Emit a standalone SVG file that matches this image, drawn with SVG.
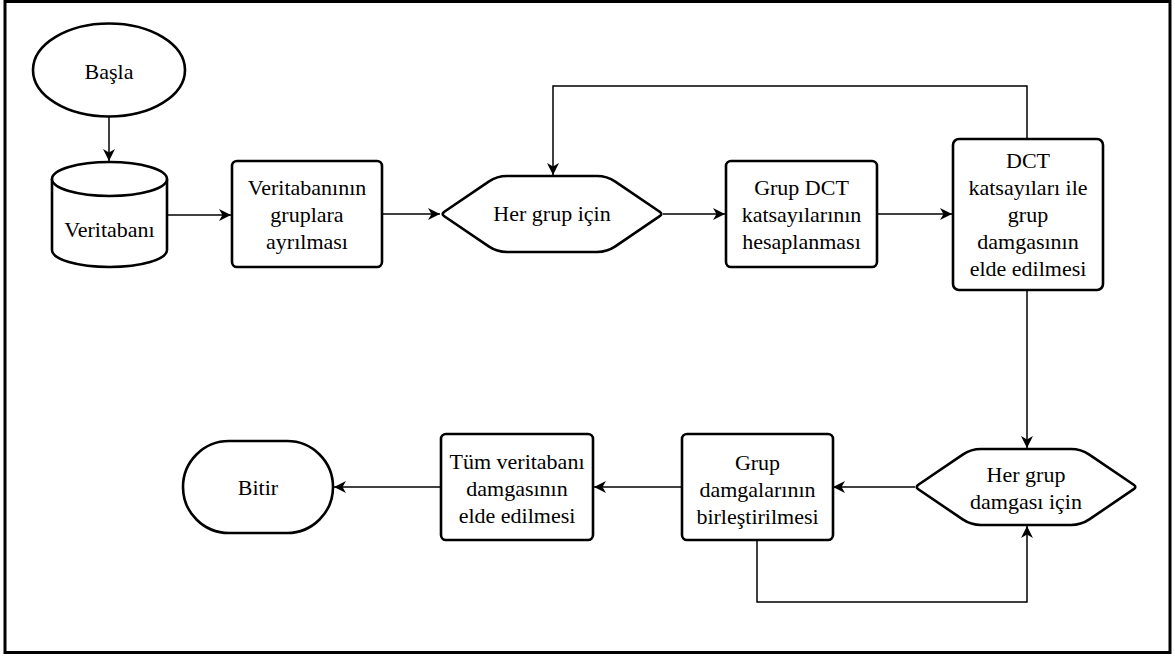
<svg xmlns="http://www.w3.org/2000/svg" width="1175" height="657" viewBox="0 0 1175 657">
  <style>
    .frame { fill: #fff; stroke: #000; stroke-width: 3; }
    .node { fill: #fff; stroke: #000; stroke-width: 2.6; stroke-linejoin: round; }
    .edge { fill: none; stroke: #000; stroke-width: 1.5; }
    .lbl { font-family: 'Liberation Serif', 'Tinos', 'Times New Roman', 'DejaVu Serif', serif; font-size: 22px; fill: #000; text-anchor: middle; }
  </style>
  <defs>
    <marker id="arrow" markerUnits="userSpaceOnUse" markerWidth="13" markerHeight="12" refX="12" refY="6" orient="auto">
      <path d="M0,0 L12,6 L0,12 L3.5,6 Z" fill="#000"/>
    </marker>
  </defs>

  <!-- outer frame -->
  <rect class="frame" x="5" y="1.5" width="1165" height="651"/>

  <!-- connectors -->
  <g id="connectors">
    <path class="edge" d="M109,117 V161" marker-end="url(#arrow)"/>
    <path class="edge" d="M167,215 H231" marker-end="url(#arrow)"/>
    <path class="edge" d="M382,214 H440" marker-end="url(#arrow)"/>
    <path class="edge" d="M663,214 H725" marker-end="url(#arrow)"/>
    <path class="edge" d="M877,214 H952" marker-end="url(#arrow)"/>
    <path class="edge" d="M1027,139 V86 H553 V175" marker-end="url(#arrow)"/>
    <path class="edge" d="M1027,290 V448" marker-end="url(#arrow)"/>
    <path class="edge" d="M915,487 H833" marker-end="url(#arrow)"/>
    <path class="edge" d="M682,487 H594" marker-end="url(#arrow)"/>
    <path class="edge" d="M441,487 H334" marker-end="url(#arrow)"/>
    <path class="edge" d="M757,540 V602 H1027 V526" marker-end="url(#arrow)"/>
  </g>

  <!-- start -->
  <g id="start">
    <ellipse class="node" cx="109" cy="70" rx="76" ry="46.5"/>
    <text class="lbl" x="109" y="79" font-family="Liberation Serif, serif">Başla</text>
  </g>

  <!-- database -->
  <g id="database">
    <path class="node" d="M52,179 A57.5,17 0 0 1 167,179 V250 A57.5,17 0 0 1 52,250 Z"/>
    <path class="node" d="M52,179 A57.5,17 0 0 0 167,179" fill="none"/>
    <text class="lbl" x="109.5" y="237">Veritabanı</text>
  </g>

  <!-- split into groups -->
  <g id="split">
    <rect class="node" x="232" y="161" width="150" height="106" rx="5"/>
    <text class="lbl" x="307" y="195">Veritabanının</text>
    <text class="lbl" x="307" y="222">gruplara</text>
    <text class="lbl" x="307" y="249">ayrılması</text>
  </g>

  <!-- loop over groups -->
  <g id="loop-groups">
    <path class="node" d="M444.3,211.8 L488.7,181.6 Q497,176 507,176 L597,176 Q607,176 615.3,181.6 L659.7,211.8 Q663,214 659.7,216.2 L615.3,246.4 Q607,252 597,252 L507,252 Q497,252 488.7,246.4 L444.3,216.2 Q441,214 444.3,211.8 Z"/>
    <text class="lbl" x="552" y="221">Her grup için</text>
  </g>

  <!-- group DCT -->
  <g id="group-dct">
    <rect class="node" x="726" y="161" width="151" height="106" rx="5"/>
    <text class="lbl" x="801.5" y="195">Grup DCT</text>
    <text class="lbl" x="801.5" y="222">katsayılarının</text>
    <text class="lbl" x="801.5" y="249">hesaplanması</text>
  </g>

  <!-- group stamp -->
  <g id="group-stamp">
    <rect class="node" x="953" y="139" width="150" height="151" rx="6"/>
    <text class="lbl" x="1028" y="168">DCT</text>
    <text class="lbl" x="1028" y="195">katsayıları ile</text>
    <text class="lbl" x="1028" y="222">grup</text>
    <text class="lbl" x="1028" y="249">damgasının</text>
    <text class="lbl" x="1028" y="276">elde edilmesi</text>
  </g>

  <!-- loop over group stamps -->
  <g id="loop-stamps">
    <path class="node" d="M918.3,484.8 L962.7,454.6 Q971,449 981,449 L1071,449 Q1081,449 1089.3,454.6 L1133.7,484.8 Q1137,487 1133.7,489.2 L1089.3,519.4 Q1081,525 1071,525 L981,525 Q971,525 962.7,519.4 L918.3,489.2 Q915,487 918.3,484.8 Z"/>
    <text class="lbl" x="1026" y="482">Her grup</text>
    <text class="lbl" x="1026" y="509">damgası için</text>
  </g>

  <!-- merge stamps -->
  <g id="merge">
    <rect class="node" x="682" y="434" width="151" height="106" rx="5"/>
    <text class="lbl" x="757.5" y="470">Grup</text>
    <text class="lbl" x="757.5" y="497">damgalarının</text>
    <text class="lbl" x="757.5" y="524">birleştirilmesi</text>
  </g>

  <!-- whole database stamp -->
  <g id="whole-stamp">
    <rect class="node" x="441" y="434" width="152" height="106" rx="5"/>
    <text class="lbl" x="517" y="469">Tüm veritabanı</text>
    <text class="lbl" x="517" y="496">damgasının</text>
    <text class="lbl" x="517" y="523">elde edilmesi</text>
  </g>

  <!-- end -->
  <g id="end">
    <rect class="node" x="183" y="441" width="150" height="92" rx="46"/>
    <text class="lbl" x="258" y="495">Bitir</text>
  </g>
</svg>
